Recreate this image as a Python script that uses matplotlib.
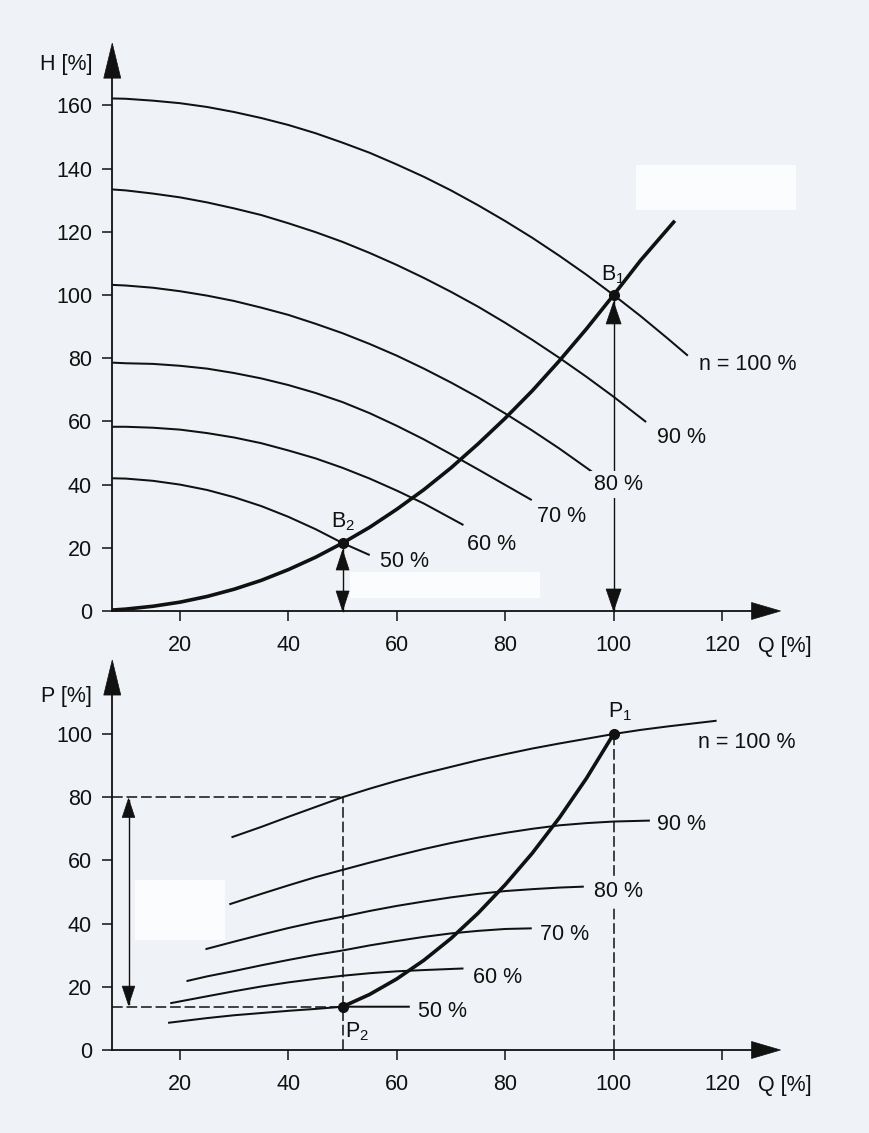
import matplotlib
matplotlib.use("Agg")
import matplotlib.pyplot as plt
from matplotlib.patches import Polygon, Rectangle

FAMILY, FONT = 'Liberation Sans', 15.5
plt.rcParams['font.family'] = [FAMILY, 'DejaVu Sans']
plt.rcParams['mathtext.fontset'] = 'custom'
plt.rcParams['mathtext.rm'] = FAMILY

# ---------------------------------------------------------------- data
q_ticks = [20, 40, 60, 80, 100, 120]
h_ticks = [0, 20, 40, 60, 80, 100, 120, 140, 160]
p_ticks = [0, 20, 40, 60, 80, 100]

speed_labels = ["n = 100 %", "90 %", "80 %", "70 %", "60 %", "50 %"]

# pump head curves H(Q) for each speed, in %
head_q_100 = [7.5, 10, 15, 20, 25, 30, 35, 40, 45, 50, 55, 60, 65, 70, 75, 80,
              85, 90, 95, 100, 105, 110, 113.7]
head_h_100 = [162.2, 162.1, 161.5, 160.7, 159.5, 157.9, 156.0, 153.8, 151.2, 148.2,
              145.0, 141.3, 137.4, 133.1, 128.4, 123.4, 118.1, 112.4, 106.4, 100,
              93.3, 86.2, 80.8]
head_q_90 = [7.5, 10, 15, 20, 25, 30, 35, 40, 45, 50, 55, 60, 65, 70, 75, 80,
             85, 90, 95, 100, 106]
head_h_90 = [133.4, 133.1, 132.1, 130.9, 129.3, 127.4, 125.3, 122.7, 119.9, 116.8,
             113.3, 109.5, 105.4, 101.0, 96.3, 91.2, 85.8, 80.1, 74.1, 67.8, 59.8]
head_q_80 = [7.5, 10, 15, 20, 25, 30, 35, 40, 45, 50, 55, 60, 65, 70, 75, 80,
             85, 90, 96]
head_h_80 = [103.2, 103.0, 102.3, 101.2, 99.8, 98.1, 96.0, 93.7, 90.9, 87.9,
             84.5, 80.8, 76.7, 72.3, 67.6, 62.5, 57.1, 51.4, 44.1]
head_q_70 = [7.5, 10, 15, 20, 25, 30, 35, 40, 45, 50, 55, 60, 65, 70, 75, 80, 84.9]
head_h_70 = [78.6, 78.4, 78.2, 77.6, 76.7, 75.3, 73.6, 71.5, 69.0, 66.1,
             62.6, 58.6, 54.3, 49.6, 44.8, 39.9, 35.1]
head_q_60 = [7.5, 10, 15, 20, 25, 30, 35, 40, 45, 50, 55, 60, 65, 72.3]
head_h_60 = [58.3, 58.3, 58.0, 57.4, 56.3, 54.9, 53.1, 50.8, 48.3, 45.3,
             41.9, 38.1, 34.0, 27.2]
head_q_50 = [7.5, 10, 15, 20, 25, 30, 35, 40, 45, 50, 55]
head_h_50 = [42.0, 41.9, 41.2, 40.0, 38.3, 36.0, 33.2, 29.8, 25.9, 21.5, 17.7]

# system curve H(Q)
system_q = [7.5, 10, 15, 20, 25, 30, 35, 40, 45, 50, 55, 60, 65, 70, 75, 80, 85,
            90, 95, 100, 105, 111.3]
system_h = [0.3, 0.6, 1.5, 2.8, 4.6, 6.9, 9.7, 13.1, 17.0, 21.5, 26.5, 32.2, 38.4,
            45.3, 52.9, 61.0, 69.7, 79.2, 89.3, 100, 111, 123.5]

# power curves P(Q) for each speed, in %
power_q_100 = [29.5, 35, 40, 45, 50, 55, 60, 65, 70, 75, 80, 85, 90, 95, 100, 105, 110, 119]
power_p_100 = [67.3, 70.6, 73.8, 76.9, 80, 82.7, 85.2, 87.5, 89.6, 91.7, 93.6, 95.4,
               97.0, 98.5, 100, 101.3, 102.4, 104.2]
power_q_90 = [29.1, 35, 40, 45, 50, 55, 60, 65, 70, 75, 80, 85, 90, 95, 100, 106.7]
power_p_90 = [46.1, 49.4, 52.1, 54.7, 57.0, 59.3, 61.5, 63.6, 65.5, 67.2, 68.7,
              70.0, 71.1, 71.8, 72.3, 72.6]
power_q_80 = [24.7, 30, 35, 40, 45, 50, 55, 60, 65, 70, 75, 80, 85, 90, 94.5]
power_p_80 = [31.9, 34.3, 36.5, 38.6, 40.5, 42.2, 44.0, 45.6, 47.0, 48.3, 49.4,
              50.3, 50.9, 51.4, 51.7]
power_q_70 = [21.2, 25, 30, 35, 40, 45, 50, 55, 60, 65, 70, 75, 80, 84.9]
power_p_70 = [21.8, 23.3, 25.0, 26.8, 28.5, 30.1, 31.5, 33.1, 34.5, 35.8, 36.9,
              37.7, 38.3, 38.5]
power_q_60 = [18.2, 25, 30, 35, 40, 45, 50, 55, 60, 65, 72.3]
power_p_60 = [14.8, 17.0, 18.6, 20.1, 21.4, 22.5, 23.5, 24.3, 24.9, 25.3, 25.8]
power_q_50 = [17.8, 25, 30, 35, 40, 45, 50, 55, 62.4]
power_p_50 = [8.6, 10.1, 11.0, 11.7, 12.4, 13.0, 13.7, 13.7, 13.7]

# power along the system curve
system_power_q = [50, 55, 60, 65, 70, 75, 80, 85, 90, 95, 100]
system_power_p = [13.7, 17.6, 22.5, 28.4, 35.3, 43.3, 52.3, 62.3, 73.5, 86.0, 100]

# operating points
point_b1 = (100, 100)
point_b2 = (50, 21.5)
point_p1 = (100, 100)
point_p2 = (50, 13.7)
p_at_half_flow_full_speed = 80

# ---------------------------------------------------------------- layout
BG = '#eff2f6'
TXT = '#111111'
INK = '#111111'
W, H = 870, 1133
fig = plt.figure(figsize=(W / 100, H / 100), dpi=100, facecolor=BG)

# erased (white) patches on the paper
for (x0, y0, w, h) in [(636, 165, 160, 45), (350, 572, 190, 26), (135, 880, 90, 60)]:
    fig.patches.append(Rectangle((x0 / W, 1 - (y0 + h) / H), w / W, h / H,
                                 transform=fig.transFigure, facecolor='#fbfcfd',
                                 edgecolor='none', zorder=0))

PXQ = 5.42     # pixels per % of flow
PXV = 3.16     # pixels per % on vertical axes
Q0PX = 71.6    # pixel column of Q = 0
QLIM = (0, 140)

ax_left = Q0PX / W
ax_width = (QLIM[1] - QLIM[0]) * PXQ / W

HLIM = (-20, 185)
PLIM = (-20, 130)
ax_h = fig.add_axes([ax_left, (H - (611 - HLIM[0] * PXV)) / H,
                     ax_width, (HLIM[1] - HLIM[0]) * PXV / H])
ax_p = fig.add_axes([ax_left, (H - (1050 - PLIM[0] * PXV)) / H,
                     ax_width, (PLIM[1] - PLIM[0]) * PXV / H])

AXIS_Q = 7.5          # position of the vertical axis
Q_ARROW_BASE, Q_ARROW_TIP = 125.5, 130.8


def head(ax, tip, direction, length_px, half_px, zorder=5):
    xl, yl = ax.get_xlim(), ax.get_ylim()
    sx = ax.bbox.width / (xl[1] - xl[0])
    sy = ax.bbox.height / (yl[1] - yl[0])
    x, y = tip
    if direction == 'up':
        pts = [(x, y), (x - half_px / sx, y - length_px / sy), (x + half_px / sx, y - length_px / sy)]
    elif direction == 'down':
        pts = [(x, y), (x - half_px / sx, y + length_px / sy), (x + half_px / sx, y + length_px / sy)]
    else:
        pts = [(x, y), (x - length_px / sx, y - half_px / sy), (x - length_px / sx, y + half_px / sy)]
    ax.add_patch(Polygon(pts, closed=True, facecolor=INK, edgecolor=INK,
                         lw=0.5, zorder=zorder, clip_on=False))


def setup(ax, ylim, yticks, y_tip, y_base, ylabel, ylabel_pos):
    ax.set_xlim(*QLIM)
    ax.set_ylim(*ylim)
    ax.patch.set_visible(False)
    for s in ('top', 'right'):
        ax.spines[s].set_visible(False)
    ax.spines['left'].set_position(('data', AXIS_Q))
    ax.spines['bottom'].set_position(('data', 0))
    ax.spines['left'].set_bounds(0, y_base + 1)
    ax.spines['bottom'].set_bounds(AXIS_Q, Q_ARROW_BASE + 1)
    for s in ('left', 'bottom'):
        ax.spines[s].set_linewidth(1.3)
        ax.spines[s].set_color(INK)
    ax.set_xticks(q_ticks)
    ax.set_yticks(yticks)
    ax.tick_params(axis='both', direction='out', length=7.5, width=1.1,
                   color=INK, labelsize=FONT, labelcolor=TXT)
    ax.tick_params(axis='x', pad=10)
    ax.tick_params(axis='y', pad=7)
    head(ax, (AXIS_Q, y_tip), 'up', 35, 8.5)
    head(ax, (Q_ARROW_TIP, 0), 'right', 29, 8.5)
    ax.text(ylabel_pos[0], ylabel_pos[1], ylabel, ha='right', va='baseline',
            fontsize=FONT, color=TXT, clip_on=False)
    ax.text(126.7, ylim[0] + 7.1, 'Q [%]', ha='left', va='baseline',
            fontsize=FONT, color=TXT, clip_on=False)


setup(ax_h, HLIM, h_ticks, 179.7, 168.7, 'H [%]', (3.9, 171.2))
setup(ax_p, PLIM, p_ticks, 123.4, 112.6, 'P [%]', (3.7, 110.2))

THIN = 1.45
THICK = 2.6

# ---------------------------------------------------------------- head chart
head_curves = [(head_q_100, head_h_100), (head_q_90, head_h_90), (head_q_80, head_h_80),
               (head_q_70, head_h_70), (head_q_60, head_h_60), (head_q_50, head_h_50)]
for q, h in head_curves:
    ax_h.plot(q, h, color=INK, lw=THIN, solid_capstyle='butt', solid_joinstyle='round', zorder=3)
ax_h.plot(system_q, system_h, color=INK, lw=THICK, solid_capstyle='butt',
          solid_joinstyle='round', zorder=4)

head_label_pos = [(115.7, 76.3), (108.0, 53.1), (96.3, 38.3), (85.8, 28.3), (73.0, 19.3), (56.9, 14.0)]
for (x, y), lab in zip(head_label_pos, speed_labels):
    bbox = None
    if lab == "80 %":
        bbox = dict(boxstyle='square,pad=0.15', facecolor=BG, edgecolor='none')
    ax_h.text(x, y, lab, ha='left', va='baseline', fontsize=FONT, color=TXT,
              bbox=bbox, zorder=6)

# double arrows from the flow axis to the operating points
ax_h.plot([point_b2[0]] * 2, [0, point_b2[1] - 2], color=INK, lw=1.0, zorder=3)
head(ax_h, (point_b2[0], point_b2[1] - 2.2), 'up', 20, 6.5)
head(ax_h, (point_b2[0], 0), 'down', 20, 6.5)
ax_h.plot([point_b1[0]] * 2, [0, point_b1[1] - 2], color=INK, lw=1.0, zorder=2)
head(ax_h, (point_b1[0], point_b1[1] - 2.2), 'up', 22, 7.5)
head(ax_h, (point_b1[0], 0), 'down', 22, 7.5)

for pt in (point_b1, point_b2):
    ax_h.plot(*pt, 'o', color=INK, ms=7, zorder=6)
ax_h.text(97.7, 104.7, r'$\mathregular{B_1}$', ha='left', va='baseline', fontsize=FONT, color=TXT)
ax_h.text(47.9, 26.3, r'$\mathregular{B_2}$', ha='left', va='baseline', fontsize=FONT, color=TXT)

# ---------------------------------------------------------------- power chart
power_curves = [(power_q_100, power_p_100), (power_q_90, power_p_90), (power_q_80, power_p_80),
                (power_q_70, power_p_70), (power_q_60, power_p_60), (power_q_50, power_p_50)]
for q, p in power_curves:
    ax_p.plot(q, p, color=INK, lw=THIN, solid_capstyle='butt', solid_joinstyle='round', zorder=3)
ax_p.plot(system_power_q, system_power_p, color=INK, lw=THICK, solid_capstyle='butt',
          solid_joinstyle='round', zorder=4)

power_label_pos = [(115.6, 95.5), (108.0, 69.6), (96.3, 48.5), (86.4, 34.8), (74.1, 21.2), (64.0, 10.5)]
for (x, y), lab in zip(power_label_pos, speed_labels):
    bbox = None
    if lab == "80 %":
        bbox = dict(boxstyle='square,pad=0.15', facecolor=BG, edgecolor='none')
    ax_p.text(x, y, lab, ha='left', va='baseline', fontsize=FONT, color=TXT,
              bbox=bbox, zorder=6)

dash = dict(color=INK, lw=1.1, dashes=(7, 2.5), zorder=2)
ax_p.plot([AXIS_Q, point_p2[0]], [p_at_half_flow_full_speed] * 2, **dash)
ax_p.plot([AXIS_Q, point_p2[0]], [point_p2[1]] * 2, **dash)
ax_p.plot([point_p2[0]] * 2, [0, p_at_half_flow_full_speed], **dash)
ax_p.plot([point_p1[0]] * 2, [0, point_p1[1]], **dash)

arrow_q = 10.5
ax_p.plot([arrow_q] * 2, [point_p2[1] + 1, p_at_half_flow_full_speed - 1], color=INK, lw=1.0, zorder=3)
head(ax_p, (arrow_q, p_at_half_flow_full_speed - 0.4), 'up', 19, 6.3)
head(ax_p, (arrow_q, point_p2[1] + 0.5), 'down', 19, 6.3)

for pt in (point_p1, point_p2):
    ax_p.plot(*pt, 'o', color=INK, ms=7, zorder=6)
ax_p.text(98.9, 105.4, r'$\mathregular{P_1}$', ha='left', va='baseline', fontsize=FONT, color=TXT)
ax_p.text(50.4, 4.1, r'$\mathregular{P_2}$', ha='left', va='baseline', fontsize=FONT, color=TXT)

fig.savefig('out.png', dpi=100, facecolor=BG)
